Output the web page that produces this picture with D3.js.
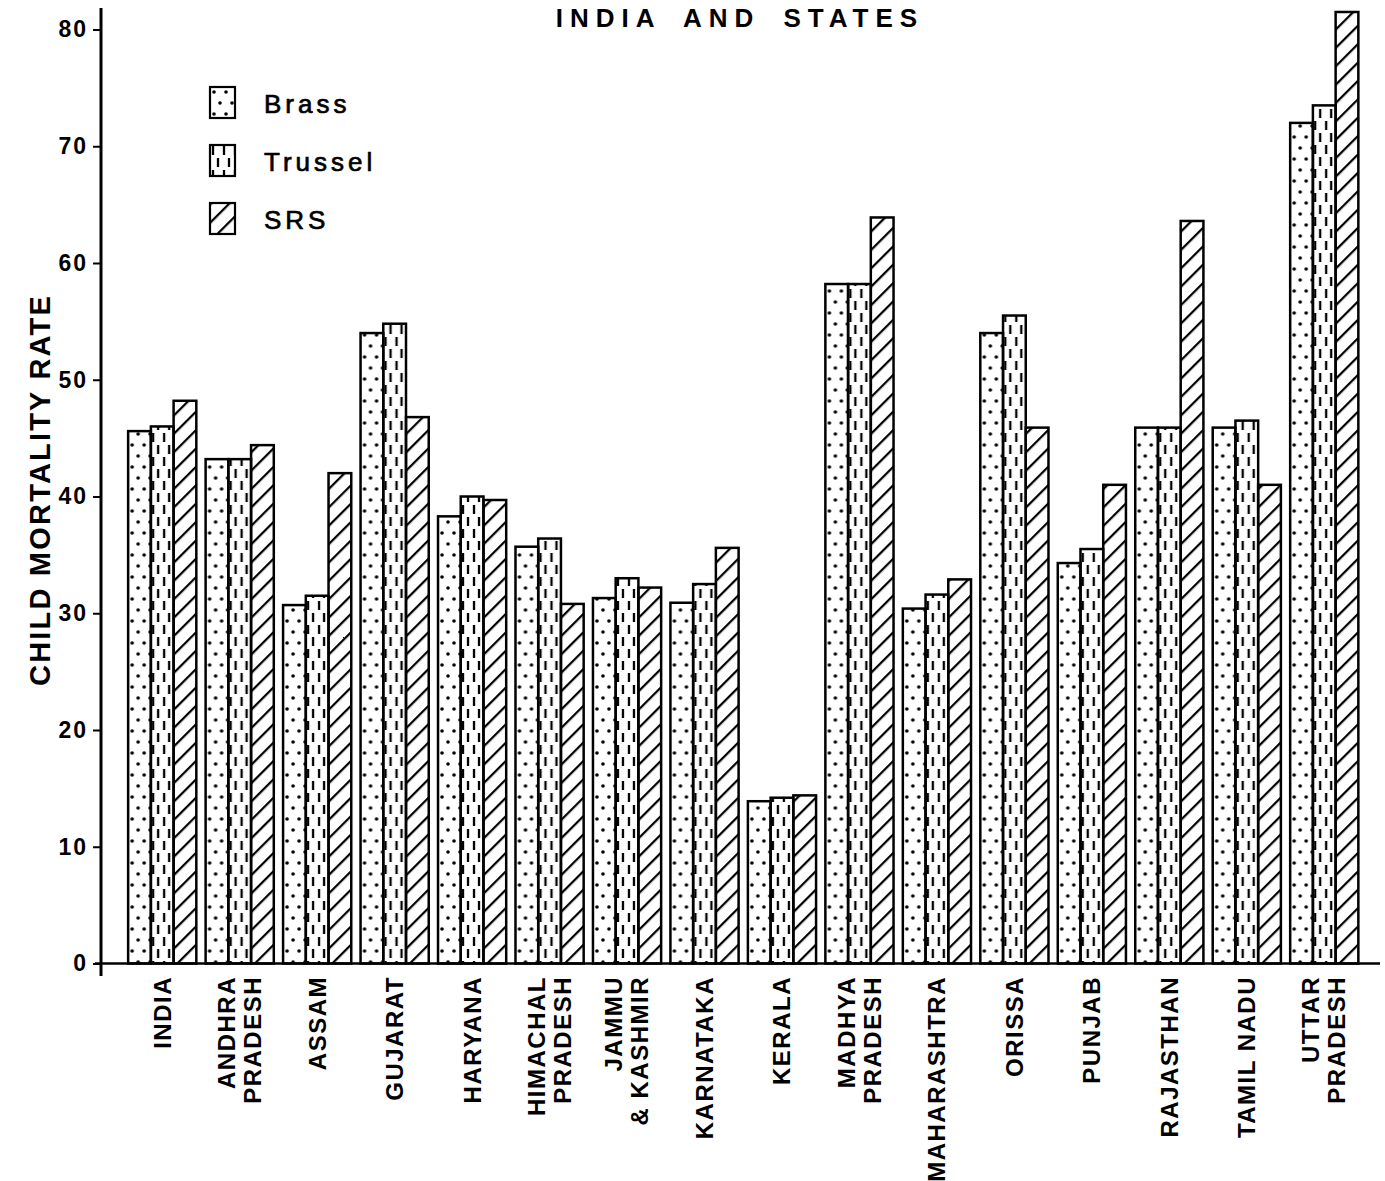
<!DOCTYPE html>
<html>
<head>
<meta charset="utf-8">
<script src="https://cdn.jsdelivr.net/npm/d3@7"></script>
<style>
  body { margin: 0; background: #fff; }
  svg { display: block; font-family: "Liberation Sans", Arial, sans-serif; }
</style>
</head>
<body>
<div id="chart"></div>
<script>
// values (child mortality rate)
var states = ["INDIA", "ANDHRA|PRADESH", "ASSAM", "GUJARAT", "HARYANA", "HIMACHAL|PRADESH",
  "JAMMU|& KASHMIR", "KARNATAKA", "KERALA", "MADHYA|PRADESH", "MAHARASHTRA", "ORISSA",
  "PUNJAB", "RAJASTHAN", "TAMIL NADU", "UTTAR|PRADESH"];
var brass   = [45.6, 43.2, 30.7, 54.0, 38.3, 35.7, 31.3, 30.9, 13.9, 58.2, 30.4, 54.0, 34.3, 45.9, 45.9, 72.0];
var trussel = [46.0, 43.2, 31.5, 54.8, 40.0, 36.4, 33.0, 32.5, 14.2, 58.2, 31.6, 55.5, 35.5, 45.9, 46.5, 73.5];
var srs     = [48.2, 44.4, 42.0, 46.8, 39.7, 30.8, 32.2, 35.6, 14.4, 63.9, 32.9, 45.9, 41.0, 63.6, 41.0, 81.5];
var seriesNames = ["Brass", "Trussel", "SRS"];
var yTicks = [0, 10, 20, 30, 40, 50, 60, 70, 80];

var width = 1385, height = 1181;

var svg = d3.select("#chart").append("svg")
    .attr("width", width)
    .attr("height", height);

// fill patterns
var defs = svg.append("defs");

var dots = defs.append("pattern")
    .attr("id", "pat-brass")
    .attr("patternUnits", "userSpaceOnUse")
    .attr("width", 12).attr("height", 22);
dots.append("circle").attr("cx", 4).attr("cy", 5).attr("r", 1.8).attr("fill", "#000");
dots.append("circle").attr("cx", 10).attr("cy", 16).attr("r", 1.8).attr("fill", "#000");

var dashes = defs.append("pattern")
    .attr("id", "pat-trussel")
    .attr("patternUnits", "userSpaceOnUse")
    .attr("width", 11).attr("height", 24);
dashes.append("line").attr("x1", 3).attr("x2", 3).attr("y1", 1).attr("y2", 10)
    .attr("stroke", "#000").attr("stroke-width", 2.3);
dashes.append("line").attr("x1", 8).attr("x2", 8).attr("y1", 13).attr("y2", 22)
    .attr("stroke", "#000").attr("stroke-width", 2.3);

var hatch = defs.append("pattern")
    .attr("id", "pat-srs")
    .attr("patternUnits", "userSpaceOnUse")
    .attr("width", 13).attr("height", 13)
    .attr("patternTransform", "rotate(45)");
hatch.append("line").attr("x1", 1).attr("x2", 1).attr("y1", 0).attr("y2", 13)
    .attr("stroke", "#000").attr("stroke-width", 2.5);

var fills = ["url(#pat-brass)", "url(#pat-trussel)", "url(#pat-srs)"];

// scales
var x0 = d3.scaleBand()
    .domain(states)
    .range([123.5, 1363])
    .paddingInner(0.12)
    .paddingOuter(0.06);

var x1 = d3.scaleBand()
    .domain(seriesNames)
    .range([0, x0.bandwidth()]);

var y = d3.scaleLinear()
    .domain([0, 80])
    .range([963.5, 29.5]);

var data = states.map(function (s, i) {
  return { state: s, values: [brass[i], trussel[i], srs[i]] };
});

// bars
var groups = svg.append("g").selectAll("g")
    .data(data)
    .enter().append("g")
    .attr("transform", function (d) { return "translate(" + x0(d.state) + ",0)"; });

groups.selectAll("rect")
    .data(function (d) { return d.values.map(function (v, j) { return { key: seriesNames[j], value: v, j: j }; }); })
    .enter().append("rect")
    .attr("x", function (d) { return x1(d.key); })
    .attr("y", function (d) { return y(d.value); })
    .attr("width", x1.bandwidth())
    .attr("height", function (d) { return y(0) - y(d.value); })
    .attr("fill", function (d) { return fills[d.j]; })
    .attr("stroke", "#000")
    .attr("stroke-width", 2.5);

// y axis
var yAxis = svg.append("g")
    .attr("transform", "translate(101,0)")
    .call(d3.axisLeft(y).tickValues(yTicks).tickSize(8).tickPadding(5));
yAxis.select(".domain").remove();
yAxis.selectAll(".tick line").attr("stroke-width", 2);
yAxis.selectAll(".tick text")
    .attr("font-size", 23)
    .attr("font-weight", "bold")
    .attr("letter-spacing", 2)
    .attr("fill", "#000");

svg.append("line")
    .attr("x1", 101).attr("x2", 101)
    .attr("y1", 8).attr("y2", 976)
    .attr("stroke", "#000").attr("stroke-width", 3);

// baseline
svg.append("line")
    .attr("x1", 95).attr("x2", 1380)
    .attr("y1", y(0)).attr("y2", y(0))
    .attr("stroke", "#000").attr("stroke-width", 2.6);

// x labels
var xLabels = svg.append("g").selectAll("text")
    .data(states)
    .enter().append("text")
    .attr("transform", function (d) {
      return "translate(" + (x0(d) + x0.bandwidth() / 2) + ",976) rotate(-90)";
    })
    .attr("text-anchor", "end")
    .attr("font-size", 24)
    .attr("font-weight", "bold")
    .attr("letter-spacing", 1.5);

xLabels.each(function (d) {
  var lines = d.split("|");
  var t = d3.select(this);
  var start = lines.length === 1 ? 0.35 : -0.2;
  lines.forEach(function (ln, k) {
    t.append("tspan")
      .attr("x", 0)
      .attr("dy", k === 0 ? start + "em" : "1.08em")
      .text(ln);
  });
});

// y title
svg.append("text")
    .attr("transform", "translate(50,490) rotate(-90)")
    .attr("text-anchor", "middle")
    .attr("font-size", 29)
    .attr("font-weight", "bold")
    .attr("letter-spacing", 2.2)
    .text("CHILD MORTALITY RATE");

// title (runs against the top edge in the original)
svg.append("text")
    .attr("x", 740)
    .attr("y", 27)
    .attr("text-anchor", "middle")
    .attr("font-size", 26)
    .attr("font-weight", "bold")
    .attr("letter-spacing", 7)
    .attr("word-spacing", 9)
    .text("INDIA AND STATES");

// legend
var legend = svg.append("g").selectAll("g")
    .data(seriesNames)
    .enter().append("g")
    .attr("transform", function (d, i) { return "translate(210," + (87 + i * 58) + ")"; });

legend.append("rect")
    .attr("width", 25).attr("height", 31)
    .attr("fill", function (d, i) { return fills[i]; })
    .attr("stroke", "#000").attr("stroke-width", 2.2);

legend.append("text")
    .attr("x", 54).attr("y", 26)
    .attr("font-size", 26)
    .attr("letter-spacing", 4)
    .attr("stroke", "#000")
    .attr("stroke-width", 0.7)
    .text(function (d) { return d; });
</script>
</body>
</html>
